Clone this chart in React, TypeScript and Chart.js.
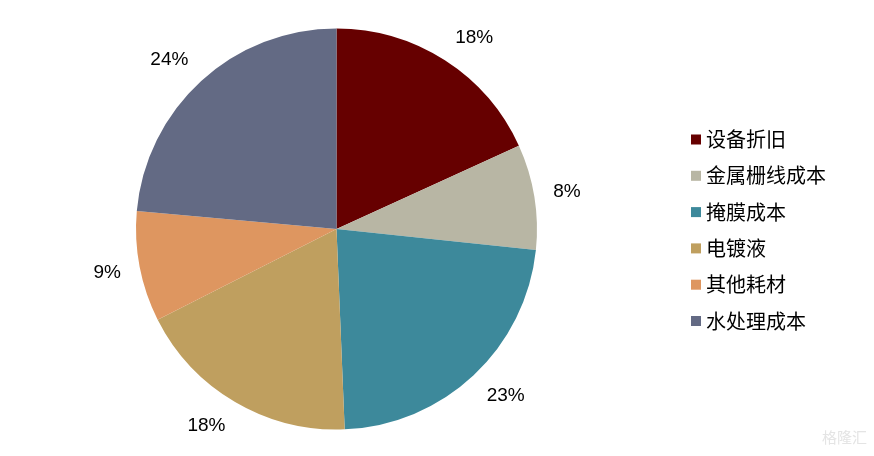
import React, { useEffect, useRef } from "react";
import { Chart, registerables } from "chart.js";

Chart.register(...registerables);

const categories = ["设备折旧", "金属栅线成本", "掩膜成本", "电镀液", "其他耗材", "水处理成本"];
const values = [18.2, 8.5, 22.7, 18.2, 8.9, 23.6];
const valueLabels = ["18%", "8%", "23%", "18%", "9%", "24%"];
const colors = ["#660000", "#B8B6A4", "#3D899B", "#BF9F5F", "#DE9660", "#636A84"];

const clamp = (v: number) => Math.max(-1, Math.min(1, v));

const labelPlugin = {
  id: "outerLabels",
  afterDatasetsDraw(chart: any) {
    const ctx = chart.ctx;
    const meta = chart.getDatasetMeta(0);
    ctx.save();
    ctx.font = "19px 'Liberation Sans', Arial, sans-serif";
    ctx.fillStyle = "#000";
    ctx.textAlign = "center";
    ctx.textBaseline = "middle";
    meta.data.forEach((arc: any, i: number) => {
      const p = arc.getProps(["x", "y", "startAngle", "endAngle", "outerRadius"], true);
      const mid = (p.startAngle + p.endAngle) / 2;
      const r = p.outerRadius + 19;
      const w = ctx.measureText(valueLabels[i]).width;
      const h = 14;
      const c = Math.cos(mid);
      const s = Math.sin(mid);
      const cx = p.x + c * r + clamp(c * 2) * w / 2;
      const cy = p.y + s * r + clamp(s * 2) * h / 2;
      ctx.fillText(valueLabels[i], cx, cy);
    });
    ctx.restore();
  },
};

const legendPlugin = {
  id: "sideLegend",
  afterDraw(chart: any) {
    const ctx = chart.ctx;
    ctx.save();
    ctx.font = "20px 'Noto Sans CJK SC', sans-serif";
    ctx.textBaseline = "middle";
    ctx.textAlign = "left";
    const x0 = 691;
    const y0 = 139.5;
    const step = 36.3;
    categories.forEach((c, i) => {
      const y = y0 + i * step;
      ctx.fillStyle = colors[i];
      ctx.fillRect(x0, y - 5, 10, 10);
      ctx.fillStyle = "#000";
      ctx.fillText(c, x0 + 15, y);
    });
    ctx.font = "15px 'Noto Sans CJK SC', sans-serif";
    ctx.fillStyle = "#e4e4e4";
    ctx.fillText("格隆汇", 822, 437);
    ctx.restore();
  },
};

export default function App() {
  const ref = useRef<HTMLCanvasElement>(null);
  useEffect(() => {
    document.body.style.margin = "0";
    const chart = new Chart(ref.current!, {
      type: "pie",
      data: {
        labels: categories,
        datasets: [
          {
            data: values,
            backgroundColor: colors,
            borderWidth: 0,
          },
        ],
      },
      options: {
        responsive: false,
        animation: false,
        layout: { padding: { left: 136, right: 337, top: 28.5, bottom: 26.5 } },
        plugins: {
          legend: { display: false },
          tooltip: { enabled: false },
        },
      },
      plugins: [labelPlugin, legendPlugin],
    });
    return () => chart.destroy();
  }, []);
  return (
    <div style={{ width: 874, height: 456, background: "#fff" }}>
      <canvas ref={ref} width={874} height={456} />
    </div>
  );
}
